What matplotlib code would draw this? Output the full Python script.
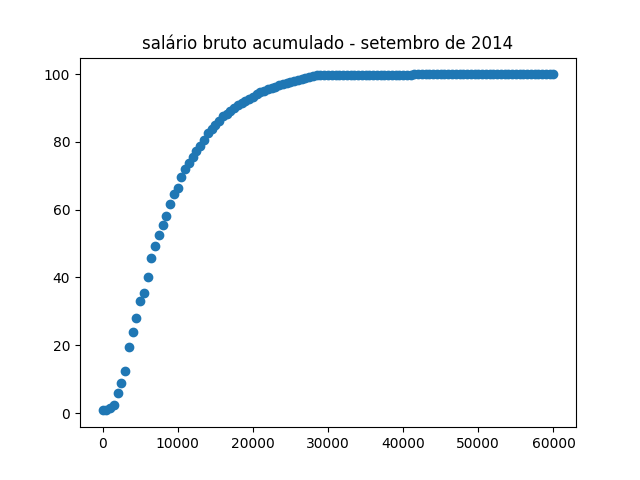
import numpy as np
import matplotlib
matplotlib.use("Agg")
import matplotlib.pyplot as plt

# salary bins (step 500)
salario = np.arange(0, 60001, 500)

acumulado = [
    0.8, 1.0, 1.5, 2.4, 5.8, 8.9, 12.4, 19.6, 24.0, 28.0, 33.0, 35.5, 40.2,
    45.8, 49.3, 52.5, 55.5, 58.0, 61.8, 64.5, 66.5, 69.6, 72.0,
    73.8, 75.5, 77.3, 78.8, 80.5, 82.5, 83.8, 85.0, 86.3, 87.5, 88.3, 89.2,
    90.0, 90.8, 91.4, 92.0, 92.7, 93.3,
    94.0, 94.6, 95.1, 95.5, 95.9, 96.3, 96.7, 97.0, 97.3, 97.7, 98.0, 98.3,
    98.6, 98.9, 99.2, 99.5,
    99.6, 99.6, 99.6, 99.6, 99.6, 99.6, 99.6, 99.6, 99.6, 99.6, 99.6, 99.6, 99.6,
    99.6, 99.6, 99.6, 99.6, 99.6, 99.6, 99.6, 99.6, 99.6, 99.6, 99.6, 99.6, 99.6,
    99.9, 99.9, 99.9, 99.9, 99.9, 99.9, 99.9, 99.9, 99.9, 99.9, 99.9, 99.9, 99.9,
    99.9, 99.9, 99.9, 99.9, 99.9, 99.9, 99.9, 99.9, 99.9, 99.9, 99.9, 99.9, 99.9,
    99.9, 99.9, 99.9, 99.9, 99.9, 99.9, 99.9, 99.9, 99.9, 99.9, 99.9, 99.9,
]

plt.figure(figsize=(6.4, 4.8), dpi=100)
plt.scatter(salario, acumulado)
plt.title("salário bruto acumulado - setembro de 2014")
plt.savefig("out.png")
